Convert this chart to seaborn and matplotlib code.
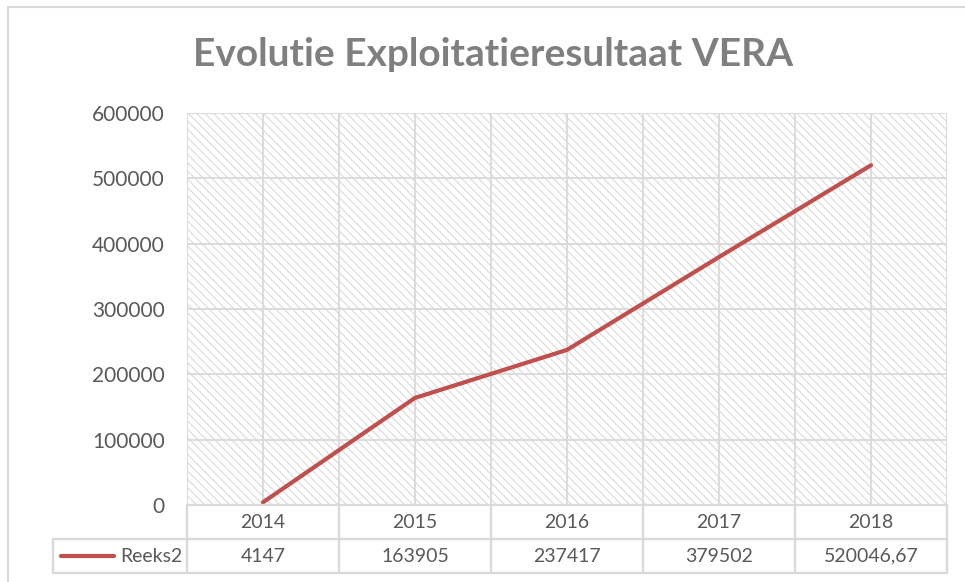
import numpy as np
import pandas as pd
import matplotlib
matplotlib.use("Agg")
import matplotlib.pyplot as plt
from matplotlib.patches import Rectangle
from matplotlib.lines import Line2D
import seaborn as sns

# ---- data ----
years = ["2014", "2015", "2016", "2017", "2018"]
values = [4147, 163905, 237417, 379502, 520046.67]
series_name = "Reeks2"
title = "Evolutie Exploitatieresultaat VERA"
y_ticks = [0, 100000, 200000, 300000, 400000, 500000, 600000]

sns.set_theme(style="white")
plt.rcParams["font.family"] = ["Lato", "DejaVu Sans"]
plt.rcParams["hatch.linewidth"] = 0.8

W, H, DPI = 965, 582, 100
fig = plt.figure(figsize=(W / DPI, H / DPI), dpi=DPI)
fig.patch.set_facecolor("white")

# px helpers
def fx(px):
    return px / W
def fy(py):
    return 1 - py / H

L, R, T, B = 187, 947, 113, 505
ax = fig.add_axes([fx(L), fy(B), fx(R) - fx(L), fy(T) - fy(B)])

df = pd.DataFrame({"pos": np.arange(len(years)), "value": values})
sns.lineplot(data=df, x="pos", y="value", ax=ax, color="#C0504D",
             linewidth=3.0, solid_capstyle="round", zorder=5)

ax.set_xlim(-0.5, len(years) - 0.5)
ax.set_ylim(0, 600000)
ax.set_yticks(y_ticks)
ax.set_yticklabels([str(v) for v in y_ticks])
ax.set_xticks(np.arange(len(years)))
ax.set_xticks(np.arange(len(years) + 1) - 0.5, minor=True)
ax.set_xticklabels([])
ax.set_xlabel("")
ax.set_ylabel("")
ax.tick_params(axis="y", length=0, pad=16, labelsize=15, labelcolor="#595959")
ax.tick_params(axis="x", which="both", length=0)
for s in ax.spines.values():
    s.set_visible(False)

# hatched plot area
ax.patch.set_facecolor("white")
hatch_rect = Rectangle((0, 0), 1, 1, transform=ax.transAxes, facecolor="white",
                       edgecolor="#dadada", linewidth=0, hatch=chr(92) * 4, zorder=0.1)
ax.add_patch(hatch_rect)
ax.set_axisbelow(True)
ax.grid(True, which="major", axis="both", color="#d9d9d9", linewidth=1.3, zorder=0.5)
ax.grid(True, which="minor", axis="x", color="#d9d9d9", linewidth=1.3, zorder=0.5)

# ---- data table ----
grid_c = "#d9d9d9"
text_c = "#595959"
row1_top, row1_bot, row2_bot = 505, 539, 573
tbl_left = 53
col_w = (R - L) / len(years)

def hline(x0, x1, y):
    fig.add_artist(Line2D([fx(x0), fx(x1)], [fy(y), fy(y)], color=grid_c, lw=1.6))
def vline(x, y0, y1):
    fig.add_artist(Line2D([fx(x), fx(x)], [fy(y0), fy(y1)], color=grid_c, lw=1.6))

hline(L, R, row1_top)
hline(tbl_left, R, row1_bot)
hline(tbl_left, R, row2_bot)
vline(tbl_left, row1_bot, row2_bot)
for i in range(len(years) + 1):
    vline(L + i * col_w, row1_top, row2_bot)

def fmt(v):
    if float(v).is_integer():
        return str(int(v))
    return f"{v:.2f}".replace(".", ",")

for i, (yr, v) in enumerate(zip(years, values)):
    cx = L + (i + 0.5) * col_w
    fig.text(fx(cx), fy((row1_top + row1_bot) / 2), yr, ha="center", va="center",
             fontsize=14, color=text_c)
    fig.text(fx(cx), fy((row1_bot + row2_bot) / 2), fmt(v), ha="center", va="center",
             fontsize=14, color=text_c)

# legend key in table
fig.add_artist(Line2D([fx(61), fx(114)], [fy(556), fy(556)], color="#C0504D",
                      lw=3.0, solid_capstyle="round"))
fig.text(fx(182), fy(556), series_name, ha="right", va="center", fontsize=14, color=text_c)

# title
fig.text(fx(493), fy(55), title, ha="center", va="center", fontsize=28,
         fontweight="bold", color="#7f7f7f")

# outer chart frame
fig.add_artist(Rectangle((fx(8), fy(600)), fx(990) - fx(8), fy(7) - fy(600),
                         fill=False, edgecolor="#d9d9d9", lw=1.5, clip_on=False))

fig.savefig("out.png", dpi=DPI, facecolor="white")
